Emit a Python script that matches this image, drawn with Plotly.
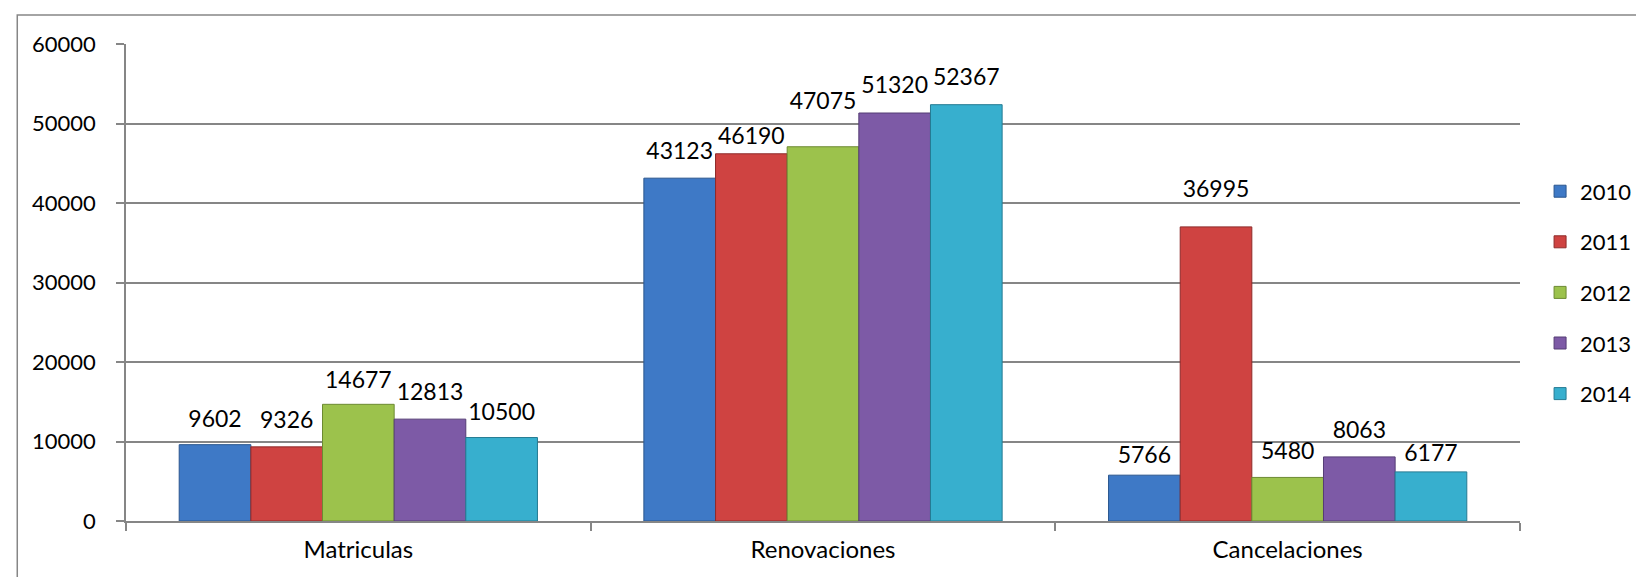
import plotly.graph_objects as go

categories = ["Matriculas", "Renovaciones", "Cancelaciones"]
years = ["2010", "2011", "2012", "2013", "2014"]
v2010 = [9602, 43123, 5766]
v2011 = [9326, 46190, 36995]
v2012 = [14677, 47075, 5480]
v2013 = [12813, 51320, 8063]
v2014 = [10500, 52367, 6177]
series = [v2010, v2011, v2012, v2013, v2014]
y_ticks = [0, 10000, 20000, 30000, 40000, 50000, 60000]

# style: colours and per-label lift (px, label centre above bar top)
colors = ["#3E79C6", "#CF4341", "#9CC24C", "#7D5AA6", "#37AFCE"]
edges = ["#2A568E", "#8E2B2A", "#6C8A32", "#553D75", "#257B93"]
lift = [[26, 27, 20], [27, 18, 38], [25, 46, 27], [27, 28, 27], [26, 28, 19]]

FONT = "Lato, 'Open Sans', sans-serif"
LABEL_SIZE = 23
GAP = 0.229

fig = go.Figure()
for i, (name, vals, c, e) in enumerate(zip(years, series, colors, edges)):
    fig.add_trace(go.Bar(
        x=categories, y=vals, name=name, offsetgroup=str(i),
        marker=dict(color=c, line=dict(color=e, width=1)),
        legendgroup=name, hoverinfo="x+y+name",
    ))
for i, (name, vals) in enumerate(zip(years, series)):
    sizes = [max(1.6 * (l - 0.61 * LABEL_SIZE - 1), 0) for l in lift[i]]
    fig.add_trace(go.Scatter(
        x=categories, y=vals, mode="markers+text", offsetgroup=str(i),
        text=[str(v) for v in vals], textposition="top center",
        textfont=dict(size=LABEL_SIZE, color="#000000", family=FONT),
        marker=dict(size=sizes, color="rgba(0,0,0,0)", line=dict(width=0)),
        showlegend=False, hoverinfo="skip", cliponaxis=False,
    ))

fig.update_layout(
    width=1644, height=577,
    margin=dict(l=118, r=132, t=36, b=64),
    paper_bgcolor="white", plot_bgcolor="white",
    barmode="group", bargap=GAP, bargroupgap=0,
    scattermode="group", scattergap=GAP,
    font=dict(family=FONT, size=22, color="#000000"),
    showlegend=True,
    legend=dict(x=1.0144, xanchor="left", y=0.735, yanchor="top",
                font=dict(size=22, family=FONT), tracegroupgap=19,
                traceorder="grouped", itemwidth=30,
                bgcolor="rgba(0,0,0,0)"),
    xaxis=dict(type="category", showgrid=False, showline=True,
               linecolor="#868686", linewidth=1.5, ticks="outside",
               tickson="boundaries", ticklen=8, tickcolor="#868686",
               tickwidth=1.5, tickfont=dict(size=24, family=FONT),
               ticklabelstandoff=6),
    yaxis=dict(range=[0, 60000], tickvals=y_ticks,
               ticktext=[str(t) for t in y_ticks],
               showgrid=True, gridcolor="#868686", gridwidth=1.5,
               showline=True, linecolor="#868686", linewidth=1.5,
               ticks="outside", ticklen=8, tickcolor="#868686", tickwidth=1.5,
               tickfont=dict(size=22, family=FONT), zeroline=False,
               ticklabelstandoff=16),
    shapes=[dict(type="rect", xref="paper", yref="paper",
                 x0=-0.078, x1=1.2, y0=-0.2, y1=1.061,
                 line=dict(color="#868686", width=1.5), layer="below")],
)

fig.write_html("out.html")
